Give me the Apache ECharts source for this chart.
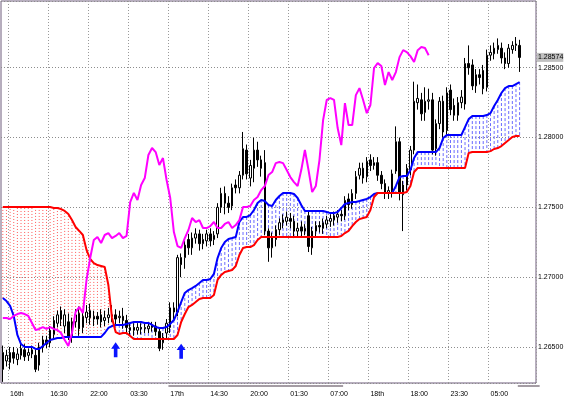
<!DOCTYPE html>
<html>
<head>
<meta charset="utf-8">
<title>Ichimoku</title>
<script src="https://cdn.jsdelivr.net/npm/echarts@6/dist/echarts.min.js"></script>
<style>
  html, body { margin: 0; padding: 0; background: #fff; }
  #chart { width: 564px; height: 399px; }
</style>
</head>
<body>
<div id="chart"></div>
<script>
// time labels, one every 11 bars
const timeLabels = ['16th', '16:30', '22:00', '03:30', '17th', '14:30', '20:00', '01:30', '07:00', '18th', '18:00', '23:30', '05:00'];

// candles
const opens = [
  1.2646, 1.2640, 1.2639, 1.2646, 1.2641, 1.2644, 1.2648, 1.2644, 1.2645, 1.2644,
  1.2637, 1.2650, 1.2655, 1.2653, 1.2659, 1.2667, 1.2676, 1.2665, 1.2668, 1.2658,
  1.2668, 1.2674, 1.2664, 1.2671, 1.2676, 1.2670, 1.2672, 1.2673, 1.2669, 1.2671,
  1.2673, 1.2673, 1.2671, 1.2672, 1.2669, 1.2662, 1.2664, 1.2662, 1.2664, 1.2663,
  1.2663, 1.2664, 1.2665, 1.2661, 1.2653, 1.2660, 1.2664, 1.2678, 1.2675, 1.2714,
  1.2714, 1.2727, 1.2721, 1.2728, 1.2731, 1.2724, 1.2726, 1.2731, 1.2727, 1.2731,
  1.2750, 1.2760, 1.2753, 1.2751, 1.2766, 1.2764, 1.2773, 1.2791, 1.2771, 1.2778,
  1.2791, 1.2784, 1.2782, 1.2733, 1.2721, 1.2727, 1.2734, 1.2739, 1.2740, 1.2742,
  1.2740, 1.2733, 1.2736, 1.2733, 1.2744, 1.2721, 1.2733, 1.2737, 1.2735, 1.2738,
  1.2740, 1.2741, 1.2743, 1.2745, 1.2744, 1.2756, 1.2752, 1.2760, 1.2773, 1.2778,
  1.2772, 1.2784, 1.2780, 1.2782, 1.2773, 1.2767, 1.2760, 1.2761, 1.2776, 1.2797,
  1.2759, 1.2766, 1.2777, 1.2791, 1.2825, 1.2827, 1.2818, 1.2826, 1.2827, 1.2792,
  1.2810, 1.2826, 1.2805, 1.2834, 1.2823, 1.2816, 1.2825, 1.2824, 1.2853, 1.2852,
  1.2837, 1.2845, 1.2848, 1.2836, 1.2859, 1.2860, 1.2863, 1.2864, 1.2857, 1.2853,
  1.2863, 1.2866, 1.2866
];
const closes = [
  1.2634, 1.2644, 1.2646, 1.2642, 1.2645, 1.2649, 1.2643, 1.2646, 1.2648, 1.2634,
  1.2650, 1.2655, 1.2652, 1.2662, 1.2669, 1.2673, 1.2670, 1.2673, 1.2657, 1.2668,
  1.2673, 1.2663, 1.2672, 1.2675, 1.2671, 1.2672, 1.2670, 1.2668, 1.2671, 1.2673,
  1.2672, 1.2670, 1.2672, 1.2669, 1.2664, 1.2664, 1.2662, 1.2664, 1.2663, 1.2664,
  1.2665, 1.2665, 1.2661, 1.2649, 1.2657, 1.2667, 1.2678, 1.2675, 1.2714, 1.2709,
  1.2723, 1.2721, 1.2728, 1.2731, 1.2724, 1.2727, 1.2731, 1.2726, 1.2730, 1.2750,
  1.2760, 1.2753, 1.2750, 1.2764, 1.2764, 1.2773, 1.2792, 1.2774, 1.2780, 1.2791,
  1.2784, 1.2778, 1.2733, 1.2721, 1.2729, 1.2734, 1.2739, 1.2741, 1.2743, 1.2740,
  1.2733, 1.2735, 1.2733, 1.2735, 1.2722, 1.2733, 1.2737, 1.2736, 1.2739, 1.2741,
  1.2742, 1.2744, 1.2745, 1.2744, 1.2755, 1.2752, 1.2760, 1.2772, 1.2778, 1.2771,
  1.2783, 1.2780, 1.2782, 1.2773, 1.2767, 1.2760, 1.2762, 1.2774, 1.2797, 1.2760,
  1.2766, 1.2778, 1.2791, 1.2826, 1.2828, 1.2817, 1.2826, 1.2827, 1.2791, 1.2810,
  1.2826, 1.2804, 1.2832, 1.2820, 1.2816, 1.2825, 1.2829, 1.2853, 1.2850, 1.2837,
  1.2845, 1.2843, 1.2835, 1.2859, 1.2861, 1.2864, 1.2866, 1.2857, 1.2853, 1.2864,
  1.2866, 1.2867, 1.28574
];
const lows = [
  1.2625, 1.2636, 1.2634, 1.2638, 1.2637, 1.2641, 1.2640, 1.2640, 1.2642, 1.2632,
  1.2633, 1.2646, 1.2649, 1.2650, 1.2655, 1.2664, 1.2665, 1.2660, 1.2655, 1.2653,
  1.2664, 1.2658, 1.2660, 1.2667, 1.2666, 1.2665, 1.2666, 1.2664, 1.2665, 1.2667,
  1.2668, 1.2665, 1.2667, 1.2663, 1.2659, 1.2658, 1.2658, 1.2659, 1.2659, 1.2660,
  1.2660, 1.2661, 1.2658, 1.2647, 1.2648, 1.2655, 1.2660, 1.2670, 1.2672, 1.2700,
  1.2706, 1.2716, 1.2716, 1.2724, 1.2719, 1.2720, 1.2722, 1.2722, 1.2723, 1.2728,
  1.2746, 1.2745, 1.2746, 1.2748, 1.2760, 1.2760, 1.2770, 1.2770, 1.2765, 1.2768,
  1.2779, 1.2772, 1.2730, 1.2711, 1.2714, 1.2722, 1.2730, 1.2735, 1.2737, 1.2735,
  1.2728, 1.2729, 1.2729, 1.2730, 1.2718, 1.2716, 1.2729, 1.2732, 1.2731, 1.2735,
  1.2736, 1.2737, 1.2739, 1.2740, 1.2741, 1.2748, 1.2749, 1.2756, 1.2770, 1.2767,
  1.2768, 1.2776, 1.2777, 1.2769, 1.2763, 1.2756, 1.2756, 1.2757, 1.2774, 1.2755,
  1.2733, 1.2762, 1.2773, 1.2788, 1.2820, 1.2812, 1.2812, 1.2820, 1.2788, 1.2787,
  1.2806, 1.2800, 1.2801, 1.2816, 1.2812, 1.2812, 1.2821, 1.2820, 1.2845, 1.2834,
  1.2832, 1.2838, 1.2831, 1.2833, 1.2855, 1.2856, 1.2860, 1.2853, 1.2849, 1.2850,
  1.2860, 1.2862, 1.2847
];
const highs = [
  1.2651, 1.2648, 1.2650, 1.2650, 1.2649, 1.2653, 1.2652, 1.2649, 1.2651, 1.2648,
  1.2653, 1.2658, 1.2658, 1.2665, 1.2672, 1.2676, 1.2679, 1.2677, 1.2674, 1.2671,
  1.2677, 1.2679, 1.2676, 1.2680, 1.2681, 1.2676, 1.2675, 1.2677, 1.2676, 1.2678,
  1.2680, 1.2677, 1.2676, 1.2678, 1.2673, 1.2667, 1.2667, 1.2667, 1.2667, 1.2667,
  1.2668, 1.2668, 1.2668, 1.2663, 1.2660, 1.2670, 1.2682, 1.2682, 1.2716, 1.2717,
  1.2726, 1.2731, 1.2732, 1.2735, 1.2734, 1.2731, 1.2734, 1.2735, 1.2733, 1.2753,
  1.2764, 1.2765, 1.2758, 1.2767, 1.2770, 1.2776, 1.2804, 1.2795, 1.2784, 1.2800,
  1.2797, 1.2787, 1.2791, 1.2735, 1.2732, 1.2737, 1.2742, 1.2745, 1.2747, 1.2746,
  1.2744, 1.2739, 1.2740, 1.2738, 1.2747, 1.2736, 1.2740, 1.2740, 1.2742, 1.2744,
  1.2745, 1.2747, 1.2748, 1.2748, 1.2758, 1.2760, 1.2763, 1.2776, 1.2782, 1.2782,
  1.2786, 1.2788, 1.2786, 1.2786, 1.2776, 1.2770, 1.2765, 1.2777, 1.2808, 1.2800,
  1.2769, 1.2781, 1.2794, 1.2840, 1.2838, 1.2832, 1.2836, 1.2835, 1.2832, 1.2813,
  1.2829, 1.2830, 1.2836, 1.2838, 1.2828, 1.2829, 1.2834, 1.2857, 1.2866, 1.2856,
  1.2849, 1.2849, 1.2852, 1.2863, 1.2866, 1.2868, 1.2871, 1.2868, 1.2861, 1.2867,
  1.2869, 1.2872, 1.2870
];

// blue line
const spanA = [
  1.26851, 1.26829, 1.26794, 1.26722, 1.26586, 1.26521, 1.26500, 1.26500, 1.26500, 1.26486,
  1.26486, 1.26507, 1.26529, 1.26550, 1.26557, 1.26564, 1.26564, 1.26572, 1.26572, 1.26572,
  1.26572, 1.26572, 1.26572, 1.26572, 1.26572, 1.26572, 1.26572, 1.26572, 1.26600, 1.26636,
  1.26650, 1.26658, 1.26658, 1.26658, 1.26665, 1.26672, 1.26679, 1.26679, 1.26679, 1.26672,
  1.26672, 1.26658, 1.26643, 1.26636, 1.26636, 1.26643, 1.26665, 1.26693, 1.26751, 1.26822,
  1.26887, 1.26908, 1.26922, 1.26937, 1.26958, 1.26980, 1.26980, 1.26987, 1.27023, 1.27137,
  1.27209, 1.27252, 1.27273, 1.27280, 1.27288, 1.27395, 1.27431, 1.27431, 1.27445, 1.27481,
  1.27531, 1.27553, 1.27545, 1.27517, 1.27510, 1.27553, 1.27581, 1.27603, 1.27603, 1.27603,
  1.27596, 1.27567, 1.27517, 1.27474, 1.27474, 1.27474, 1.27474, 1.27474, 1.27474, 1.27467,
  1.27459, 1.27459, 1.27467, 1.27495, 1.27524, 1.27531, 1.27538, 1.27538, 1.27545, 1.27553,
  1.27560, 1.27574, 1.27596, 1.27603, 1.27603, 1.27603, 1.27603, 1.27603, 1.27653, 1.27717,
  1.27724, 1.27724, 1.27767, 1.27853, 1.27896, 1.27896, 1.27896, 1.27896, 1.27896, 1.27896,
  1.27925, 1.27996, 1.28018, 1.28018, 1.28018, 1.28018, 1.28018, 1.28075, 1.28132, 1.28154,
  1.28154, 1.28154, 1.28154, 1.28161, 1.28175, 1.28226, 1.28269, 1.28319, 1.28354, 1.28369,
  1.28369, 1.28383, 1.28397
];

// red line
const spanB = [
  1.27502, 1.27502, 1.27502, 1.27502, 1.27502, 1.27502, 1.27502, 1.27502, 1.27502, 1.27502,
  1.27502, 1.27502, 1.27502, 1.27502, 1.27495, 1.27495, 1.27488, 1.27474, 1.27452, 1.27409,
  1.27359, 1.27331, 1.27302, 1.27195, 1.27130, 1.27101, 1.27087, 1.27080, 1.27073, 1.26944,
  1.26708, 1.26607, 1.26593, 1.26600, 1.26600, 1.26579, 1.26557, 1.26557, 1.26557, 1.26557,
  1.26557, 1.26557, 1.26557, 1.26557, 1.26557, 1.26557, 1.26557, 1.26557, 1.26586, 1.26679,
  1.26736, 1.26786, 1.26801, 1.26822, 1.26844, 1.26851, 1.26851, 1.26851, 1.26872, 1.26980,
  1.27016, 1.27037, 1.27044, 1.27051, 1.27080, 1.27159, 1.27209, 1.27216, 1.27216, 1.27230,
  1.27266, 1.27288, 1.27288, 1.27288, 1.27288, 1.27288, 1.27288, 1.27288, 1.27288, 1.27288,
  1.27288, 1.27288, 1.27288, 1.27288, 1.27288, 1.27288, 1.27288, 1.27288, 1.27288, 1.27288,
  1.27288, 1.27288, 1.27288, 1.27295, 1.27316, 1.27331, 1.27366, 1.27395, 1.27416, 1.27424,
  1.27431, 1.27481, 1.27574, 1.27603, 1.27603, 1.27603, 1.27603, 1.27603, 1.27603, 1.27603,
  1.27603, 1.27610, 1.27653, 1.27753, 1.27782, 1.27782, 1.27782, 1.27782, 1.27782, 1.27782,
  1.27782, 1.27782, 1.27782, 1.27782, 1.27782, 1.27782, 1.27782, 1.27782, 1.27889, 1.27896,
  1.27896, 1.27896, 1.27896, 1.27896, 1.27903, 1.27918, 1.27925, 1.27939, 1.27961, 1.27982,
  1.28004, 1.28011, 1.28011
];

// magenta line
const lagging = [
  1.26708, 1.26708, 1.26700, 1.26722, 1.26736, 1.26743, 1.26736, 1.26722, 1.26672, 1.26622,
  1.26629, 1.26643, 1.26629, 1.26643, 1.26629, 1.26622, 1.26600, 1.26550, 1.26507, 1.26600,
  1.26751, 1.26786, 1.26743, 1.26980, 1.27137, 1.27266, 1.27288, 1.27245, 1.27302, 1.27316,
  1.27280, 1.27295, 1.27316, 1.27280, 1.27295, 1.27538, 1.27603, 1.27553, 1.27660, 1.27710,
  1.27875, 1.27925, 1.27896, 1.27803, 1.27853, 1.27696, 1.27567, 1.27323, 1.27223, 1.27209,
  1.27280, 1.27338, 1.27424, 1.27395, 1.27409, 1.27352, 1.27352, 1.27366, 1.27395, 1.27352,
  1.27352, 1.27381, 1.27395, 1.27352, 1.27373, 1.27409, 1.27502, 1.27502, 1.27510, 1.27553,
  1.27574, 1.27624, 1.27653, 1.27732, 1.27753, 1.27817, 1.27825, 1.27817, 1.27767, 1.27717,
  1.27681, 1.27653, 1.27767, 1.27911, 1.27767, 1.27610, 1.27653, 1.27839, 1.28125, 1.28269,
  1.28283, 1.28269, 1.28068, 1.27946, 1.28247, 1.28089, 1.28089, 1.28304, 1.28354, 1.28269,
  1.28175, 1.28233, 1.28498, 1.28533, 1.28512, 1.28376, 1.28469, 1.28412, 1.28469, 1.28576,
  1.28626, 1.28612, 1.28583, 1.28541, 1.28626, 1.28648, 1.28641, 1.28590
];

// signal arrows (bar index, price)
const arrowBars = [31, 49];
const arrowPrices = [1.2648, 1.2647];

// grey period bars under the axis (bar index ranges)
const sepRanges = [[46, 93], [142, 147]];

const FONT = '"Liberation Sans", Arial, sans-serif';
const barCount = 147;
const labelStart = 2;
const labelStep = 11;
const yMin = 1.26242;
const yMax = 1.28978;

const categories = Array.from({ length: barCount }, (_, i) => {
  const k = (i - labelStart) / labelStep;
  return Number.isInteger(k) && k >= 0 && k < timeLabels.length ? timeLabels[k] : '';
});
const isLabelBar = (i) => categories[i] !== '';

const candles = opens.map((o, i) => [o, closes[i], lows[i], highs[i]]);
const cloudData = spanA.map((a, i) => [i, a, spanB[i]]);

const chart = echarts.init(document.getElementById('chart'));

const option = {
  animation: false,
  backgroundColor: '#ffffff',
  grid: {
    left: 1, right: 28, top: 1, bottom: 16,
    show: true,
    borderColor: '#6e5c7c',
    borderWidth: 1,
    containLabel: false,
    outerBoundsMode: 'none'
  },
  xAxis: {
    type: 'category',
    data: categories,
    boundaryGap: true,
    axisLine: { show: false },
    axisTick: { show: false },
    axisLabel: {
      interval: (i) => isLabelBar(i),
      align: 'left',
      margin: 8,
      color: '#000',
      fontSize: 7,
      fontFamily: FONT
    },
    splitLine: {
      show: true,
      interval: (i) => isLabelBar(i),
      lineStyle: { color: '#9a9a9a', type: [1, 2], width: 1 }
    }
  },
  yAxis: {
    type: 'value',
    position: 'right',
    min: yMin,
    max: yMax,
    splitNumber: 5,
    axisLine: { show: false },
    axisTick: { show: false },
    axisLabel: {
      margin: 2,
      color: '#000',
      fontSize: 7,
      fontFamily: FONT,
      showMinLabel: false,
      showMaxLabel: false,
      formatter: (v) => {
        const r = v / 0.005;
        return Math.abs(r - Math.round(r)) < 1e-6 ? v.toFixed(5) : '';
      }
    },
    splitLine: { lineStyle: { color: '#8c8c8c', type: [1, 2], width: 1 } }
  },
  series: [
    {
      type: 'custom',
      name: 'cloud',
      data: cloudData,
      encode: { x: 0, y: [1, 2] },
      z: 1,
      silent: true,
      renderItem: (params, api) => {
        const i = api.value(0);
        const a = api.value(1);
        const b = api.value(2);
        const p1 = api.coord([i, a]);
        const p2 = api.coord([i, b]);
        const redTop = b > a;
        return {
          type: 'line',
          shape: { x1: p1[0], y1: p1[1], x2: p2[0], y2: p2[1] },
          style: {
            stroke: redTop ? '#ff5a5a' : '#6a6aff',
            lineWidth: 1,
            lineDash: redTop ? [1, 2] : [3, 2]
          }
        };
      }
    },
    {
      type: 'candlestick',
      name: 'price',
      data: candles,
      barWidth: 2,
      z: 2,
      itemStyle: {
        color: '#ffffff',
        color0: '#000000',
        borderColor: '#000000',
        borderColor0: '#000000',
        borderWidth: 1
      },
      markPoint: {
        silent: true,
        symbol: 'path://M5,0 L10,6 L7,6 L7,14 L3,14 L3,6 L0,6 Z',
        symbolSize: [9, 15],
        itemStyle: { color: '#0a14ff' },
        label: { show: false },
        data: arrowBars.map((b, k) => ({ coord: [b, arrowPrices[k]] }))
      }
    },
    {
      type: 'line',
      name: 'spanA',
      data: spanA,
      symbol: 'none',
      z: 3,
      lineStyle: { color: '#0000ff', width: 2 }
    },
    {
      type: 'line',
      name: 'spanB',
      data: spanB,
      symbol: 'none',
      z: 3,
      lineStyle: { color: '#ff0000', width: 2 }
    },
    {
      type: 'line',
      name: 'lagging',
      data: lagging,
      symbol: 'none',
      z: 3,
      lineStyle: { color: '#ff00ff', width: 2 }
    }
  ]
};

chart.setOption(option);

// period bars under the time axis, and the last-price tag on the price scale
const px = (i) => chart.convertToPixel({ xAxisIndex: 0 }, i);
const band = px(1) - px(0);
const axisY = chart.convertToPixel({ yAxisIndex: 0 }, yMin);
const gridRight = px(barCount - 1) + band / 2;
const lastClose = closes[closes.length - 1];
const tagY = chart.convertToPixel({ yAxisIndex: 0 }, lastClose);

const graphics = sepRanges.map(([a, b]) => ({
  type: 'rect',
  silent: true,
  shape: { x: px(a) - band / 2, y: axisY + 2, width: (b - a + 1) * band, height: 2 },
  style: { fill: '#a49ca4' }
}));
graphics.push({
  type: 'text',
  silent: true,
  x: gridRight + 1,
  y: tagY,
  style: {
    text: lastClose.toFixed(5),
    fill: '#000',
    font: '7px "Liberation Sans", Arial, sans-serif',
    verticalAlign: 'middle',
    align: 'left',
    backgroundColor: '#c0c0c0',
    padding: [1, 0, 1, 1]
  }
});
chart.setOption({ graphic: graphics });
</script>
</body>
</html>
